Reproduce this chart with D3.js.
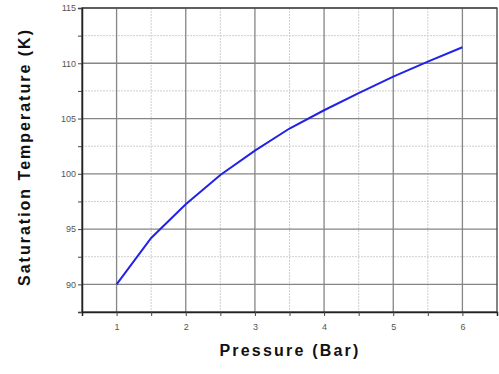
<!DOCTYPE html>
<html>
<head>
<meta charset="utf-8">
<script src="https://cdn.jsdelivr.net/npm/d3@7"></script>
<style>
  body { margin: 0; background: #fff; }
  text { font-family: "Liberation Sans", Arial, sans-serif; }
</style>
</head>
<body>
<div id="canvas"></div>
<script>
// data
var pressure = [1, 1.5, 2, 2.5, 3, 3.5, 4, 4.5, 5, 5.5, 6];
var satTemp = [90.0, 94.2, 97.25, 99.9, 102.1, 104.1, 105.75, 107.3, 108.8, 110.15, 111.45];
var xTicks = [1, 2, 3, 4, 5, 6];
var yTicks = [90, 95, 100, 105, 110, 115];
var xMinor = [1.5, 2.5, 3.5, 4.5, 5.5];
var yMinor = [87.5, 92.5, 97.5, 102.5, 107.5, 112.5];

var W = 499, H = 374;
var margin = { top: 8, right: 2, bottom: 62, left: 82 },
    width = W - margin.left - margin.right,
    height = H - margin.top - margin.bottom;

var svg = d3.select("#canvas").append("svg")
    .attr("width", W)
    .attr("height", H);

var g = svg.append("g")
    .attr("transform", "translate(" + margin.left + "," + margin.top + ")");

var x = d3.scaleLinear().domain([0.5, 6.5]).range([0, width]);
var y = d3.scaleLinear().domain([87.5, 115]).range([height, 0]);

// minor grid (dotted)
g.selectAll(".xminor").data(xMinor).enter().append("line")
    .attr("x1", d => x(d)).attr("x2", d => x(d))
    .attr("y1", 0).attr("y2", height)
    .attr("stroke", "#cfcfcf").attr("stroke-width", 1)
    .attr("stroke-dasharray", "2,1");
g.selectAll(".yminor").data(yMinor).enter().append("line")
    .attr("x1", 0).attr("x2", width)
    .attr("y1", d => y(d)).attr("y2", d => y(d))
    .attr("stroke", "#cfcfcf").attr("stroke-width", 1)
    .attr("stroke-dasharray", "2,1");

// major grid
g.selectAll(".xmajor").data(xTicks).enter().append("line")
    .attr("x1", d => x(d)).attr("x2", d => x(d))
    .attr("y1", 0).attr("y2", height)
    .attr("stroke", "#858585").attr("stroke-width", 1.3);
g.selectAll(".ymajor").data(yTicks).enter().append("line")
    .attr("x1", 0).attr("x2", width)
    .attr("y1", d => y(d)).attr("y2", d => y(d))
    .attr("stroke", "#858585").attr("stroke-width", 1.3);

// frame
g.append("rect")
    .attr("x", 0).attr("y", 0)
    .attr("width", width).attr("height", height)
    .attr("fill", "none").attr("stroke", "#333").attr("stroke-width", 1.2);

// axes
var xAxis = d3.axisBottom(x).tickValues(xTicks.concat(xMinor))
    .tickSize(4).tickFormat(d => Number.isInteger(d) ? d : "");
var xg = g.append("g").attr("transform", "translate(0," + height + ")").call(xAxis);
xg.select(".domain").attr("stroke", "#222").attr("stroke-width", 1.5);
xg.selectAll(".tick line").attr("stroke", "#444");
xg.selectAll(".tick text").attr("fill", "#555").style("font-size", "9px").attr("dy", "1.2em");

var yAxis = d3.axisLeft(y).tickValues(yTicks.concat(yMinor))
    .tickSize(4).tickFormat(d => Number.isInteger(d) ? d : "");
var yg = g.append("g").call(yAxis);
yg.select(".domain").attr("stroke", "#222").attr("stroke-width", 1.5);
yg.selectAll(".tick line").attr("stroke", "#444");
yg.selectAll(".tick text").attr("fill", "#555").style("font-size", "9px").attr("x", -6);

// the curve
g.append("path")
    .datum(pressure.map((p, i) => ({ p: p, t: satTemp[i] })))
    .attr("fill", "none")
    .attr("stroke", "#2222e6")
    .attr("stroke-width", 2)
    .attr("d", d3.line().x(d => x(d.p)).y(d => y(d.t)));

// axis titles
svg.append("text")
    .attr("x", 290).attr("y", 356)
    .attr("text-anchor", "middle")
    .style("font-size", "16px").style("font-weight", "bold")
    .style("letter-spacing", "2.2px")
    .attr("fill", "#111")
    .text("Pressure (Bar)");

svg.append("text")
    .attr("transform", "translate(30," + 157 + ") rotate(-90)")
    .attr("text-anchor", "middle")
    .style("font-size", "16px").style("font-weight", "bold")
    .style("letter-spacing", "2px")
    .attr("fill", "#111")
    .text("Saturation Temperature (K)");
</script>
</body>
</html>
